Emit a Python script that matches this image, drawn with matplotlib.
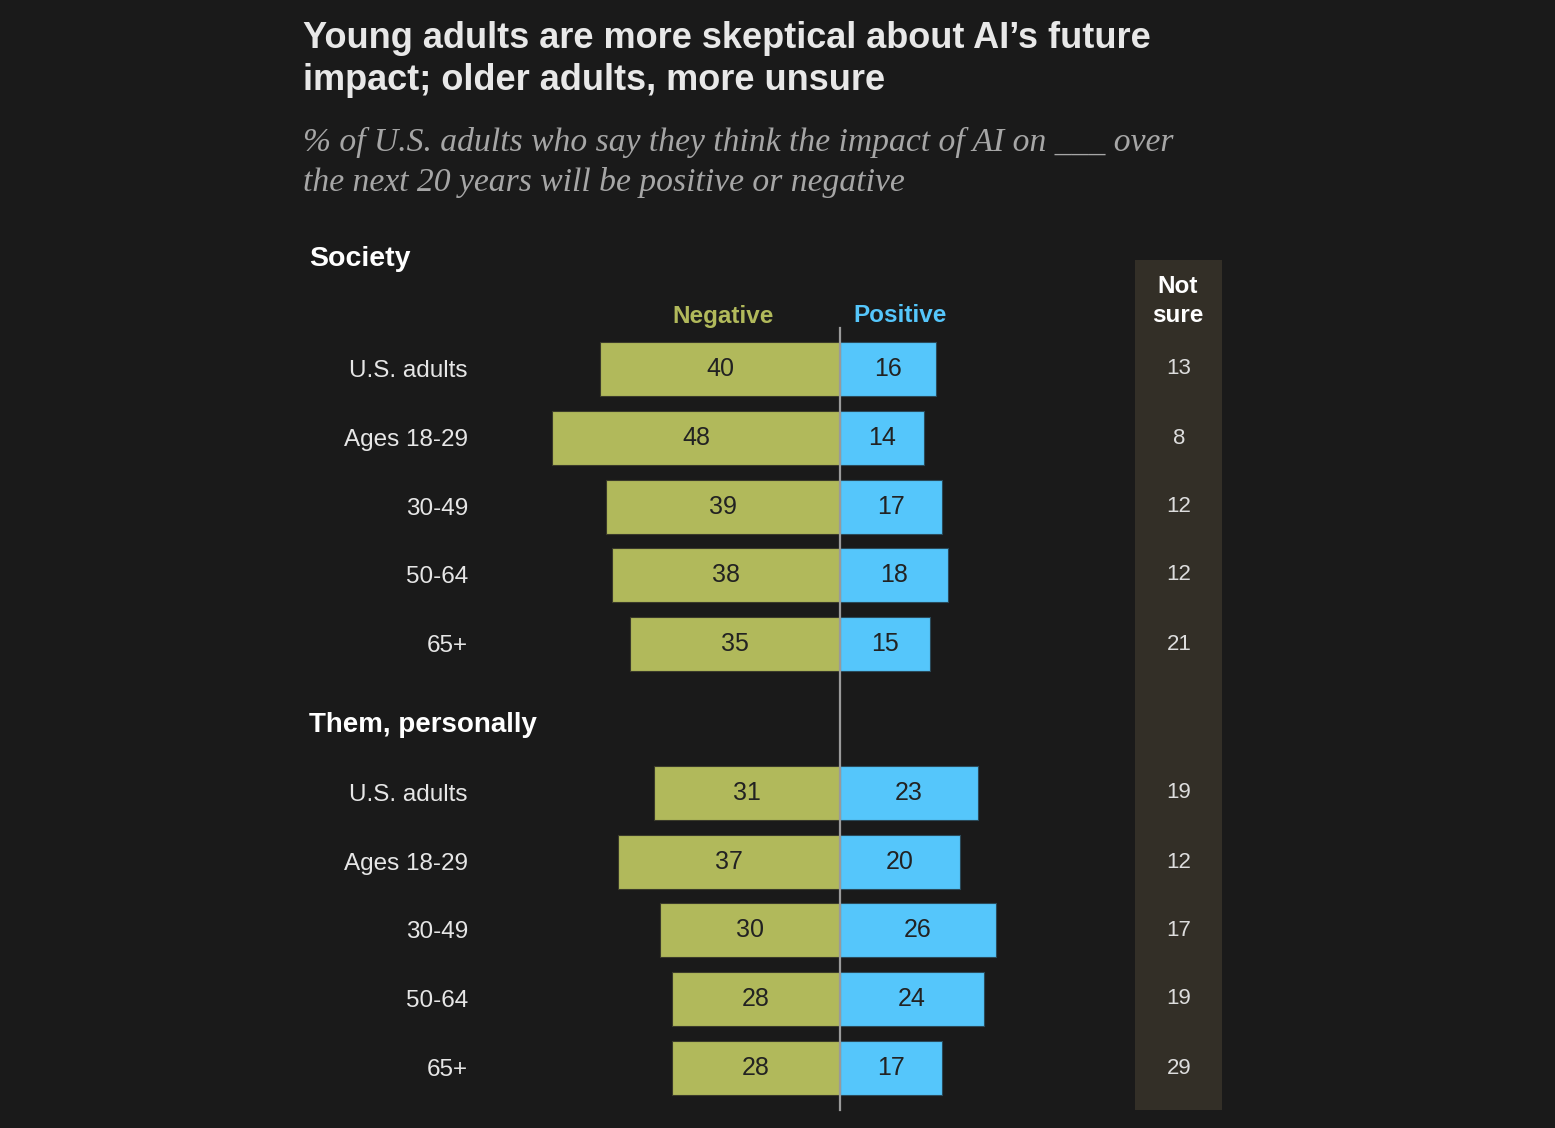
import matplotlib
matplotlib.use("Agg")
import matplotlib.pyplot as plt
from matplotlib.patches import Rectangle

# ---- data ----
groups = ["U.S. adults", "Ages 18-29", "30-49", "50-64", "65+"]
society_negative = [40, 48, 39, 38, 35]
society_positive = [16, 14, 17, 18, 15]
society_notsure = [13, 8, 12, 12, 21]
personal_negative = [31, 37, 30, 28, 28]
personal_positive = [23, 20, 26, 24, 17]
personal_notsure = [19, 12, 17, 19, 29]
sections = ["Society", "Them, personally"]

BG = "#1a1a1a"
NEG = "#b1b95b"
POS = "#55c6fb"
NS_BG = "#332f27"

W, H = 1555, 1128
fig = plt.figure(figsize=(W / 100, H / 100), dpi=100, facecolor=BG)
ax = fig.add_axes([0, 0, 1, 1])
ax.set_facecolor(BG)
PX = 6.0  # pixels per percentage point
ZERO = 840
ax.set_xlim(-ZERO / PX, (W - ZERO) / PX)
ax.set_ylim(H, 0)
ax.axis("off")

def xpix(p):
    return (p - ZERO) / PX

sec_rows = [[369, 438, 507, 575, 644], [793, 862, 930, 999, 1068]]
sec_header_y = [259, 725]
data = [(society_negative, society_positive, society_notsure),
        (personal_negative, personal_positive, personal_notsure)]

# Not sure column background
ax.add_patch(Rectangle((xpix(1135), 260), (1222 - 1135) / PX, 850, facecolor=NS_BG, edgecolor="none", zorder=0))

label_font = "Liberation Sans"
for s, (neg, pos, ns) in enumerate(data):
    ys = sec_rows[s]
    ax.barh(ys, [-v for v in neg], height=54, color=NEG, edgecolor="#3a3a2a", linewidth=0.8, zorder=2)
    ax.barh(ys, pos, height=54, color=POS, edgecolor="#2a4a5a", linewidth=0.8, zorder=2)
    for y, g, n, p, u in zip(ys, groups, neg, pos, ns):
        ax.text(-n / 2, y, str(n), ha="center", va="center", fontsize=18, color="#222222",
                family=label_font, zorder=3)
        ax.text(p / 2, y, str(p), ha="center", va="center", fontsize=18, color="#222222",
                family=label_font, zorder=3)
        ax.text(xpix(1179), y, str(u), ha="center", va="center", fontsize=16, color="#dddddd",
                family=label_font, zorder=3)
        ax.text(xpix(468), y + 2, g, ha="right", va="center", fontsize=17.5, color="#e6e6e6",
                family=label_font)
    ax.text(xpix(309), sec_header_y[s], sections[s], ha="left", va="center",
            fontsize=20.5 if s == 0 else 20, fontweight="bold", color="white", family=label_font)

# zero line
ax.plot([0, 0], [328, 1110], color="#9a9a9a", lw=1.6, zorder=4)

# column headers
ax.text(xpix(723), 316, "Negative", ha="center", va="center", fontsize=17.5, fontweight="bold",
        color=NEG, family=label_font)
ax.text(xpix(853), 316, "Positive", ha="left", va="center", fontsize=17.5, fontweight="bold",
        color=POS, family=label_font)
ax.text(xpix(1178), 301, "Not\nsure", ha="center", va="center", fontsize=17.5, fontweight="bold",
        color="white", family=label_font, linespacing=1.35)

# title and subtitle
fig.text(303 / W, 1 - 38 / H, "Young adults are more skeptical about AI\u2019s future",
         ha="left", va="center", fontsize=26, fontweight="bold", color="#e8e8e8",
         family="Liberation Sans")
fig.text(303 / W, 1 - 81 / H, "impact; older adults, more unsure",
         ha="left", va="center", fontsize=26, fontweight="bold", color="#e8e8e8",
         family="Liberation Sans")
fig.text(303 / W, 1 - 142 / H, "% of U.S. adults who say they think the impact of AI on ___ over",
         ha="left", va="center", fontsize=24.2, style="italic", color="#a6a6a6",
         family="Liberation Serif")
fig.text(303 / W, 1 - 182 / H, "the next 20 years will be positive or negative",
         ha="left", va="center", fontsize=24.2, style="italic", color="#a6a6a6",
         family="Liberation Serif")

fig.savefig("out.png", dpi=100, facecolor=BG)
